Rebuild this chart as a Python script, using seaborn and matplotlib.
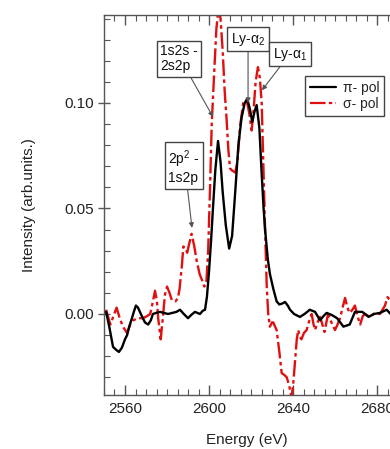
import matplotlib
matplotlib.use("Agg")
import matplotlib.pyplot as plt
import seaborn as sns
import pandas as pd
from matplotlib.lines import Line2D
from matplotlib.ticker import MultipleLocator

# ---- data ----
pi_energy = [2551.0, 2552.5, 2554.3, 2555.8, 2557.1, 2558.5, 2560.0, 2561.0, 2562.0, 2563.3,
             2564.2, 2565.2, 2566.2, 2567.1, 2568.5, 2569.5, 2571.0, 2572.3, 2573.3, 2574.8,
             2576.7, 2578.5, 2580.5, 2582.5, 2584.5, 2586.2, 2588.0, 2590.0, 2591.5, 2593.3,
             2595.7, 2597.0, 2598.1, 2599.0, 2600.0, 2601.0, 2602.0, 2603.0, 2604.3, 2605.5,
             2606.5, 2608.0, 2609.6, 2611.0, 2612.5, 2614.0, 2615.5, 2617.0, 2618.2, 2619.5,
             2620.6, 2621.7, 2622.7, 2624.0, 2625.0, 2626.0, 2626.7, 2628.0, 2629.0, 2630.6,
             2632.2, 2633.5, 2635.0, 2636.2, 2637.5, 2638.6, 2640.5, 2643.3, 2645.5, 2648.0,
             2650.5, 2652.9, 2654.5, 2656.0, 2658.5, 2661.0, 2664.0, 2667.0, 2669.5, 2673.0,
             2676.0, 2678.5, 2681.4, 2684.6, 2686.5]
pi_intensity = [0.001, -0.006, -0.0156, -0.017, -0.018, -0.016, -0.012, -0.010, -0.006, -0.002,
                0.001, 0.004, 0.003, 0.001, -0.002, -0.004, -0.005, -0.003, 0.0, 0.0005,
                0.001, 0.0005, 0.0, 0.0005, 0.001, 0.002, 0.0, -0.002, -0.0005, 0.001,
                0.0, 0.0015, 0.002, 0.008, 0.020, 0.035, 0.052, 0.068, 0.082, 0.072,
                0.058, 0.042, 0.031, 0.037, 0.058, 0.080, 0.093, 0.100, 0.102, 0.097,
                0.091, 0.096, 0.099, 0.088, 0.068, 0.050, 0.040, 0.026, 0.019, 0.012,
                0.006, 0.0045, 0.005, 0.0057, 0.004, 0.002, 0.0, -0.0014, 0.0, 0.002,
                0.001, -0.003, -0.001, 0.0005, -0.0005, -0.002, -0.006, -0.005, 0.001, 0.001,
                -0.0014, 0.0, 0.0005, 0.002, 0.0]

sigma_energy = [2551.0, 2553.0, 2554.5, 2556.0, 2557.5, 2559.0, 2561.0, 2562.5, 2564.0, 2566.0,
                2568.6, 2570.5, 2572.0, 2573.3, 2574.3, 2575.2, 2575.8, 2577.0, 2578.0, 2579.0,
                2580.0, 2581.2, 2582.3, 2584.0, 2585.2, 2586.0, 2587.0, 2587.8, 2588.8, 2589.6,
                2590.5, 2591.7, 2593.0, 2594.0, 2595.5, 2596.7, 2597.8, 2598.8, 2599.6, 2600.5,
                2601.3, 2602.5, 2603.5, 2604.5, 2605.5, 2606.5, 2607.5, 2608.4, 2609.2, 2610.0,
                2611.0, 2612.5, 2613.5, 2614.8, 2616.3, 2618.0, 2619.2, 2620.3, 2621.2, 2622.2,
                2623.3, 2624.2, 2625.1, 2625.9, 2626.7, 2627.5, 2628.2, 2629.0, 2630.0, 2630.6,
                2632.2, 2633.5, 2634.6, 2636.0, 2637.0, 2638.2, 2639.3, 2640.2, 2641.0, 2641.8,
                2642.5, 2643.3, 2644.0, 2645.2, 2646.5, 2647.8, 2648.9, 2649.8, 2650.5, 2651.7,
                2652.9, 2654.0, 2655.0, 2656.7, 2658.3, 2660.0, 2661.2, 2662.4, 2663.6, 2664.8,
                2665.9, 2667.0, 2668.3, 2669.5, 2670.7, 2672.0, 2673.2, 2674.3, 2676.7, 2679.0,
                2681.4, 2683.8, 2685.0, 2686.5]
sigma_intensity = [0.002, -0.005, -0.001, 0.003, -0.002, -0.006, -0.009, -0.005, -0.003, -0.002,
                   -0.002, -0.001, 0.0, 0.006, 0.011, 0.006, -0.002, -0.012, -0.002, 0.009,
                   0.013, 0.010, 0.0066, 0.006, 0.0075, 0.012, 0.022, 0.032, 0.031, 0.029,
                   0.033, 0.038, 0.032, 0.026, 0.019, 0.016, 0.013, 0.016, 0.030, 0.060,
                   0.090, 0.115, 0.135, 0.145, 0.140, 0.125, 0.105, 0.092, 0.078, 0.069,
                   0.068, 0.067, 0.072, 0.089, 0.100, 0.101, 0.095, 0.087, 0.096, 0.110,
                   0.117, 0.112, 0.100, 0.070, 0.040, 0.013, 0.0, -0.006, -0.004, -0.004,
                   -0.0076, -0.018, -0.028, -0.029, -0.030, -0.034, -0.040, -0.032, -0.022, -0.012,
                   -0.0076, -0.011, -0.012, -0.009, -0.0076, -0.003, 0.0, -0.005, -0.0076, -0.004,
                   -0.0014, -0.005, -0.0085, 0.0, -0.004, -0.0076, -0.005, -0.002, 0.003, 0.0076,
                   0.003, 0.0005, 0.002, 0.004, -0.001, -0.005, -0.001, 0.0, -0.0014, 0.0005,
                   0.0, 0.004, 0.008, 0.006]

series_labels = ["π- pol", "σ- pol"]
annotation_texts = ["1s2s -\n2s2p", "Ly-α$_2$", "Ly-α$_1$", "2p$^2$ -\n1s2p"]

# ---- style ----
sns.set_theme(style="white")
plt.rcParams["font.family"] = ["Liberation Sans", "DejaVu Sans"]
plt.rcParams["mathtext.fontset"] = "custom"
plt.rcParams["mathtext.rm"] = "Liberation Sans"
plt.rcParams["mathtext.it"] = "Liberation Sans:italic"
plt.rcParams["mathtext.default"] = "rm"

fig = plt.figure(figsize=(3.9, 4.49), dpi=100)
ax = fig.add_axes([104/390, 1-395/449, 1-104/390, (395-15)/449])

df_pi = pd.DataFrame({"E": pi_energy, "I": pi_intensity})
df_sig = pd.DataFrame({"E": sigma_energy, "I": sigma_intensity})

red = "#e01010"
sns.lineplot(data=df_pi, x="E", y="I", ax=ax, color="black", lw=1.7,
             estimator=None, sort=False, zorder=3)
sns.lineplot(data=df_sig, x="E", y="I", ax=ax, color=red, lw=1.7,
             estimator=None, sort=False, zorder=2, dashes=False)
ax.lines[-1].set_linestyle((0, (7, 1.5, 1.5, 1.5)))

ax.set_xlim(2550, 2550 + 286/2.1)
ax.set_ylim(-0.0384, 0.1417)

ax.xaxis.set_major_locator(MultipleLocator(40))
ax.xaxis.set_minor_locator(MultipleLocator(5))
ax.yaxis.set_major_locator(MultipleLocator(0.05))
ax.yaxis.set_minor_locator(MultipleLocator(0.01))
ax.yaxis.set_major_formatter(matplotlib.ticker.FormatStrFormatter("%.2f"))

spc = "#555555"
for s in ["left", "bottom", "top"]:
    ax.spines[s].set_color(spc)
    ax.spines[s].set_linewidth(1.0)
ax.spines["right"].set_visible(False)

ax.tick_params(axis="x", which="major", direction="in", length=7, width=1, color=spc,
               top=True, bottom=True, labelsize=11, pad=5, labelcolor="#222222")
ax.tick_params(axis="x", which="minor", direction="in", length=4, width=0.8, color=spc,
               top=True, bottom=True)
ax.tick_params(axis="y", which="major", direction="inout", length=9, width=1, color=spc,
               left=True, right=False, labelsize=11, pad=3, labelcolor="#222222")
ax.tick_params(axis="y", which="minor", direction="in", length=4, width=0.8, color=spc,
               left=True, right=False)

ax.set_xlabel("Energy (eV)", fontsize=11, color="#222222", labelpad=12)
ax.set_ylabel("Intensity (arb.units.)", fontsize=11, color="#222222", labelpad=20)

handles = [Line2D([], [], color="black", lw=1.6),
           Line2D([], [], color=red, lw=1.6, ls=(0, (7, 1.5, 1.5, 1.5)))]
leg = ax.legend(handles, series_labels, loc="upper right", bbox_to_anchor=(0.979, 0.84),
                fontsize=10, frameon=True, fancybox=False, edgecolor="#444444",
                framealpha=1, handlelength=1.9, handletextpad=0.45, labelspacing=0.15,
                borderpad=0.35, borderaxespad=0)
leg.get_frame().set_linewidth(1.0)

bbox = dict(boxstyle="square,pad=0.25", fc="white", ec="#444444", lw=1.0)
arrow = dict(arrowstyle="-|>", color="#555555", lw=0.8, mutation_scale=7, shrinkA=0, shrinkB=0)

text_pos = [(2585.7, 0.121), (2618.6, 0.1303), (2638.6, 0.1232), (2588.1, 0.0697)]
tips = [(2601.9, 0.0934), (2618.6, 0.100), (2625.2, 0.106), (2591.9, 0.0408)]
relpos = [(0.75, 0.0), (0.5, 0.0), (0.3, 0.0), (0.6, 0.0)]
for t, tp, tip, rp in zip(annotation_texts, text_pos, tips, relpos):
    a = dict(arrow)
    a["relpos"] = rp
    ax.annotate(t, xy=tip, xytext=tp, textcoords="data", ha="center", va="center",
                fontsize=10, color="#111111", bbox=bbox, arrowprops=a,
                multialignment="left", linespacing=1.1, zorder=5)

fig.savefig("out.png", dpi=100)
